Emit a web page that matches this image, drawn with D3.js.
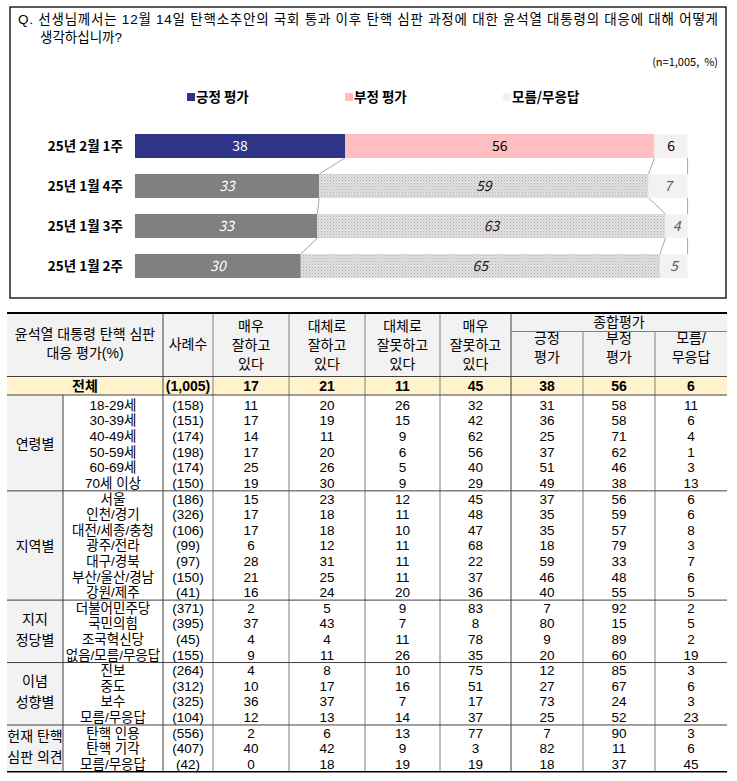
<!DOCTYPE html>
<html><head><meta charset="utf-8">
<script src="https://cdn.jsdelivr.net/npm/d3@7"></script>
<style>body{margin:0;background:#fff;} text{font-family:"Noto Sans CJK KR","Noto Sans",sans-serif;} .tight{font-family:"Liberation Sans","Noto Sans CJK KR",sans-serif;}</style>
</head><body><svg id="c" width="737" height="781"></svg>
<script>
// ---------- data ----------
const questionLine1 = "Q. 선생님께서는 12월 14일 탄핵소추안의 국회 통과 이후 탄핵 심판 과정에 대한 윤석열 대통령의 대응에 대해 어떻게";
const questionLine2 = "생각하십니까?";
const sampleNote = "(n=1,005,  %)";
const legendLabels = ["긍정 평가", "부정 평가", "모름/무응답"];
const periods = ["25년 2월 1주", "25년 1월 4주", "25년 1월 3주", "25년 1월 2주"];
const positive = [38, 33, 33, 30];
const negative = [56, 59, 63, 65];
const unknown = [6, 7, 4, 5];

const headerTitle = ["윤석열 대통령 탄핵 심판", "대응 평가(%)"];
const columnHeaders = [["사례수"], ["매우", "잘하고", "있다"], ["대체로", "잘하고", "있다"], ["대체로", "잘못하고", "있다"], ["매우", "잘못하고", "있다"], ["긍정", "평가"], ["부정", "평가"], ["모름/", "무응답"]];
const summaryHeader = "종합평가";
const totalLabel = "전체";
const totalRow = ["(1,005)", 17, 21, 11, 45, 38, 56, 6];

const groupNames = [["연령별"], ["지역별"], ["지지", "정당별"], ["이념", "성향별"], ["헌재 탄핵", "심판 의견"]];
const groupSizes = [6, 7, 4, 4, 3];
const rowLabels = ["18-29세", "30-39세", "40-49세", "50-59세", "60-69세", "70세 이상",
  "서울", "인천/경기", "대전/세종/충청", "광주/전라", "대구/경북", "부산/울산/경남", "강원/제주",
  "더불어민주당", "국민의힘", "조국혁신당", "없음/모름/무응답",
  "진보", "중도", "보수", "모름/무응답",
  "탄핵 인용", "탄핵 기각", "모름/무응답"];
const sampleSizes = ["(158)", "(151)", "(174)", "(198)", "(174)", "(150)",
  "(186)", "(326)", "(106)", "(99)", "(97)", "(150)", "(41)",
  "(371)", "(395)", "(45)", "(155)",
  "(264)", "(312)", "(325)", "(104)",
  "(556)", "(407)", "(42)"];
const veryGood = [11, 17, 14, 17, 25, 19, 15, 17, 17, 6, 28, 21, 16, 2, 37, 4, 9, 4, 10, 36, 12, 2, 40, 0];
const good = [20, 19, 11, 20, 26, 30, 23, 18, 18, 12, 31, 25, 24, 5, 43, 4, 11, 8, 17, 37, 13, 6, 42, 18];
const bad = [26, 15, 9, 6, 5, 9, 12, 11, 10, 11, 11, 11, 20, 9, 7, 11, 26, 10, 16, 7, 14, 13, 9, 19];
const veryBad = [32, 42, 62, 56, 40, 29, 45, 48, 47, 68, 22, 37, 36, 83, 8, 78, 35, 75, 51, 17, 37, 77, 3, 19];
const positiveTotal = [31, 36, 25, 37, 51, 49, 37, 35, 35, 18, 59, 46, 40, 7, 80, 9, 20, 12, 27, 73, 25, 7, 82, 18];
const negativeTotal = [58, 58, 71, 62, 46, 38, 56, 59, 57, 79, 33, 48, 55, 92, 15, 89, 60, 85, 67, 24, 52, 90, 11, 37];
const unknownTotal = [11, 6, 4, 1, 3, 13, 6, 6, 8, 3, 7, 6, 5, 2, 5, 2, 19, 3, 6, 3, 23, 3, 6, 45];

// ---------- setup ----------
const svg = d3.select("#c");
const defs = svg.append("defs");
const pat = defs.append("pattern").attr("id", "dots").attr("width", 3).attr("height", 3).attr("patternUnits", "userSpaceOnUse");
pat.append("rect").attr("width", 3).attr("height", 3).attr("fill", "#E2E2E2");
pat.append("rect").attr("width", 1).attr("height", 1).attr("fill", "#ADADAD");
pat.append("rect").attr("x", 1.5).attr("y", 1.5).attr("width", 1).attr("height", 1).attr("fill", "#BDBDBD");

// top box
svg.append("rect").attr("x", 10).attr("y", 7).attr("width", 716).attr("height", 291)
  .attr("fill", "none").attr("stroke", "#000").attr("stroke-width", 1.3);

svg.append("text").attr("class", "tight").attr("x", 18).attr("y", 24).attr("font-size", 13.5)
  .attr("textLength", 700).attr("lengthAdjust", "spacing").text(questionLine1);
svg.append("text").attr("class", "tight").attr("x", 40).attr("y", 42).attr("font-size", 13.5).text(questionLine2);
svg.append("text").attr("x", 718).attr("y", 66).attr("font-size", 11).attr("text-anchor", "end")
  .style("white-space", "pre").text(sampleNote);

const mainColors = ["#2E3587", "#FFBFC0", "#F2F2F2"];
const legendX = d3.scalePoint().domain(legendLabels).range([187, 503]);
const lg = svg.append("g").selectAll("g").data(legendLabels).join("g")
  .attr("transform", d => `translate(${legendX(d)},97)`);
lg.append("rect").attr("x", 0).attr("y", -4).attr("width", 8).attr("height", 8).attr("fill", (d, i) => mainColors[i]);
lg.append("text").attr("x", 9).attr("dy", "0.36em").attr("font-size", 13.5).attr("font-weight", "bold").text(d => d);

// bars
const barData = periods.map((p, i) => ({ period: p, pos: positive[i], neg: negative[i], dk: unknown[i] }));
const keys = ["pos", "neg", "dk"];
const stacked = d3.stack().keys(keys).offset(d3.stackOffsetExpand)(barData);
const x = d3.scaleLinear().domain([0, 1]).range([135, 687.6]);
const y = d3.scaleBand().domain(periods).range([134, 278]).paddingInner(0.4).paddingOuter(0);

const fills = [["#2E3587", "#FFBFC0", "#F2F2F2"], ["#808080", "url(#dots)", "#F2F2F2"]];
const labelFill = [["#fff", "#000", "#000"], ["#fff", "#1a1a1a", "#595959"]];

// series lines
const sl = svg.append("g").attr("stroke", "#A6A6A6").attr("stroke-width", 1);
stacked.forEach(s => {
  for (let i = 0; i < periods.length - 1; i++) {
    sl.append("line")
      .attr("x1", x(s[i][1])).attr("y1", y(periods[i]) + y.bandwidth())
      .attr("x2", x(s[i + 1][1])).attr("y2", y(periods[i + 1]));
  }
});

stacked.forEach((s, k) => {
  const g = svg.append("g");
  g.selectAll("rect").data(s).join("rect")
    .attr("x", d => x(d[0])).attr("y", d => y(d.data.period))
    .attr("width", d => x(d[1]) - x(d[0])).attr("height", y.bandwidth())
    .attr("fill", (d, i) => fills[i === 0 ? 0 : 1][k]);
  g.selectAll("text").data(s).join("text")
    .attr("x", d => (x(d[0]) + x(d[1])) / 2).attr("y", d => y(d.data.period) + y.bandwidth() / 2)
    .attr("dy", "0.36em").attr("text-anchor", "middle").attr("font-size", 14)
    .attr("font-style", (d, i) => i === 0 ? "normal" : "italic")
    .attr("fill", (d, i) => labelFill[i === 0 ? 0 : 1][k])
    .text(d => d.data[keys[k]]);
});

svg.append("g").selectAll("text").data(periods).join("text")
  .attr("x", 123).attr("y", d => y(d) + y.bandwidth() / 2).attr("dy", "0.36em")
  .attr("text-anchor", "end").attr("font-size", 13.5).attr("font-weight", "bold").text(d => d);

// ---------- table ----------
const T = svg.append("g");
const tableLeft = 7, tableRight = 727, subLeft = 63, labelRight = 163;
const colEdges = [163, 213, 289, 365, 440, 511, 583, 655, 727];
const colKeys = ["n", "vg", "g", "b", "vb", "pt", "nt", "dt"];
const colX = d3.scaleOrdinal().domain(colKeys).range(colKeys.map((k, i) => (colEdges[i] + colEdges[i + 1]) / 2));
const rowY = d3.scaleLinear().domain([0, rowLabels.length - 1]).range([405, 764]);
const rowH = rowY(1) - rowY(0);
const headTop = 313, headBottom = 376.5, totalBottom = 395;
const tableBottom = rowY(rowLabels.length - 1) + rowH / 2;

// backgrounds
T.append("rect").attr("x", tableLeft).attr("y", headTop).attr("width", tableRight - tableLeft).attr("height", headBottom - headTop).attr("fill", "#F2F2F2");
T.append("rect").attr("x", tableLeft).attr("y", headBottom).attr("width", tableRight - tableLeft).attr("height", totalBottom - headBottom).attr("fill", "#FFF2CC");
T.append("rect").attr("x", tableLeft).attr("y", totalBottom).attr("width", subLeft - tableLeft).attr("height", tableBottom - totalBottom).attr("fill", "#F2F2F2");

// header texts
const hdr = T.append("g").attr("class", "tight").attr("font-size", 14).attr("text-anchor", "middle");
headerTitle.forEach((t, i) => hdr.append("text").attr("class", "tight").attr("x", 85).attr("y", 334 + i * 19).attr("dy", "0.36em").text(t));
columnHeaders.forEach((lines, c) => {
  const k = colKeys[c];
  let ys;
  if (lines.length === 1) ys = [344];
  else if (lines.length === 3) ys = [326, 345, 364];
  else ys = [338, 357];
  lines.forEach((t, j) => hdr.append("text").attr("class", "tight").attr("x", colX(k)).attr("y", ys[j]).attr("dy", "0.36em").text(t));
});
hdr.append("text").attr("class", "tight").attr("x", (colEdges[5] + colEdges[8]) / 2).attr("y", 322).attr("dy", "0.36em").text(summaryHeader);

// total row
const tot = T.append("g").attr("font-size", 14).attr("font-weight", "bold").attr("text-anchor", "middle");
tot.append("text").attr("class", "tight").attr("x", 85).attr("y", (headBottom + totalBottom) / 2).attr("dy", "0.36em").text(totalLabel);
tot.selectAll("text.v").data(totalRow).join("text").attr("class", "v tight")
  .attr("x", (d, i) => colX(colKeys[i])).attr("y", (headBottom + totalBottom) / 2).attr("dy", "0.36em").text(d => d);

// body rows
const cols = [sampleSizes, veryGood, good, bad, veryBad, positiveTotal, negativeTotal, unknownTotal];
const body = T.append("g").attr("font-size", 13.5).attr("text-anchor", "middle");
body.selectAll("text.l").data(rowLabels).join("text").attr("class", "l tight")
  .attr("x", (subLeft + labelRight) / 2).attr("y", (d, i) => rowY(i)).attr("dy", "0.36em").text(d => d);
cols.forEach((arr, c) => {
  body.selectAll("text.c" + c).data(arr).join("text").attr("class", "c" + c + " tight")
    .attr("x", colX(colKeys[c])).attr("y", (d, i) => rowY(i)).attr("dy", "0.36em").text(d => d);
});

// group labels and separators
let start = 0;
const seps = [];
groupNames.forEach((lines, gi) => {
  const n = groupSizes[gi];
  const top = rowY(start) - rowH / 2, bot = rowY(start + n - 1) + rowH / 2;
  const cy = (top + bot) / 2;
  lines.forEach((t, j) => {
    body.append("text").attr("class", "tight").attr("x", (tableLeft + subLeft) / 2).attr("font-size", 14)
      .attr("y", lines.length === 1 ? cy : cy - 2 + (j - 0.5) * 21).attr("dy", "0.36em").text(t);
  });
  if (gi < groupNames.length - 1) seps.push(bot);
  start += n;
});

const L = T.append("g");
// vertical lines
L.append("line").attr("x1", subLeft).attr("x2", subLeft).attr("y1", totalBottom).attr("y2", tableBottom).attr("stroke", "#404040");
colEdges.slice(0, -1).forEach((xe, i) => {
  const topY = (i >= 6) ? 331.5 : headTop;
  L.append("line").attr("x1", xe).attr("x2", xe).attr("y1", topY).attr("y2", tableBottom)
    .attr("stroke", (i === 0 || i === 5) ? "#404040" : "#7F7F7F");
});
// horizontal
L.append("line").attr("x1", colEdges[5]).attr("x2", tableRight).attr("y1", 331.5).attr("y2", 331.5).attr("stroke", "#7F7F7F");
L.append("line").attr("x1", tableLeft).attr("x2", tableRight).attr("y1", headTop).attr("y2", headTop).attr("stroke", "#000").attr("stroke-width", 2);
[headBottom, totalBottom].forEach(yy => L.append("line").attr("x1", tableLeft).attr("x2", tableRight).attr("y1", yy).attr("y2", yy).attr("stroke", "#404040"));
seps.forEach(yy => L.append("line").attr("x1", tableLeft).attr("x2", tableRight).attr("y1", yy).attr("y2", yy).attr("stroke", "#404040"));
L.append("line").attr("x1", tableLeft).attr("x2", tableRight).attr("y1", tableBottom).attr("y2", tableBottom).attr("stroke", "#000").attr("stroke-width", 1.5);
</script></body></html>
